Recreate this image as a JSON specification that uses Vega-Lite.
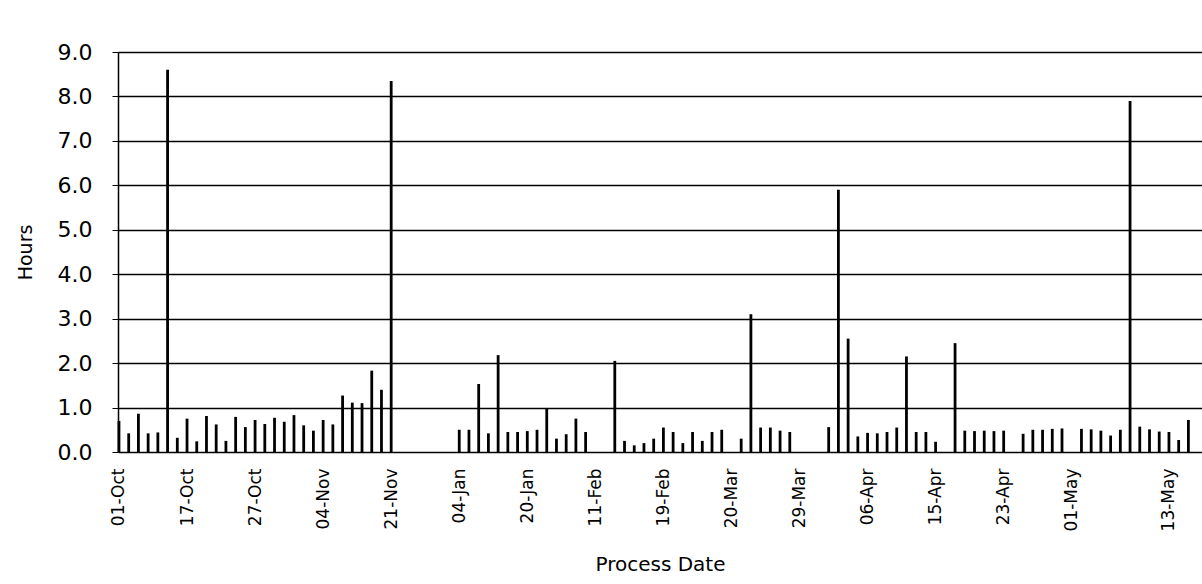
{
  "$schema": "https://vega.github.io/schema/vega-lite/v6.json",
  "width": 1084,
  "height": 400,
  "autosize": "none",
  "padding": {"left": 118, "top": 52, "right": 0, "bottom": 132},
  "background": "white",
  "config": {
    "view": {"stroke": null},
    "font": "DejaVu Sans"
  },
  "data": {
    "values": [
      {"slot": 0, "hours": 0.70}, {"slot": 1, "hours": 0.42}, {"slot": 2, "hours": 0.86},
      {"slot": 3, "hours": 0.42}, {"slot": 4, "hours": 0.44}, {"slot": 5, "hours": 8.6},
      {"slot": 6, "hours": 0.32}, {"slot": 7, "hours": 0.75}, {"slot": 8, "hours": 0.24},
      {"slot": 9, "hours": 0.81}, {"slot": 10, "hours": 0.62}, {"slot": 11, "hours": 0.25},
      {"slot": 12, "hours": 0.79}, {"slot": 13, "hours": 0.56}, {"slot": 14, "hours": 0.72},
      {"slot": 15, "hours": 0.63}, {"slot": 16, "hours": 0.77}, {"slot": 17, "hours": 0.68},
      {"slot": 18, "hours": 0.83}, {"slot": 19, "hours": 0.6}, {"slot": 20, "hours": 0.48},
      {"slot": 21, "hours": 0.72}, {"slot": 22, "hours": 0.62}, {"slot": 23, "hours": 1.27},
      {"slot": 24, "hours": 1.11}, {"slot": 25, "hours": 1.1}, {"slot": 26, "hours": 1.83},
      {"slot": 27, "hours": 1.4}, {"slot": 28, "hours": 8.35},
      {"slot": 35, "hours": 0.5}, {"slot": 36, "hours": 0.5}, {"slot": 37, "hours": 1.53},
      {"slot": 38, "hours": 0.42}, {"slot": 39, "hours": 2.18}, {"slot": 40, "hours": 0.45},
      {"slot": 41, "hours": 0.45}, {"slot": 42, "hours": 0.47}, {"slot": 43, "hours": 0.5},
      {"slot": 44, "hours": 0.98}, {"slot": 45, "hours": 0.3}, {"slot": 46, "hours": 0.4},
      {"slot": 47, "hours": 0.75}, {"slot": 48, "hours": 0.45},
      {"slot": 51, "hours": 2.05}, {"slot": 52, "hours": 0.25}, {"slot": 53, "hours": 0.15},
      {"slot": 54, "hours": 0.2}, {"slot": 55, "hours": 0.3}, {"slot": 56, "hours": 0.55},
      {"slot": 57, "hours": 0.45}, {"slot": 58, "hours": 0.2}, {"slot": 59, "hours": 0.45},
      {"slot": 60, "hours": 0.25}, {"slot": 61, "hours": 0.45}, {"slot": 62, "hours": 0.5},
      {"slot": 64, "hours": 0.3}, {"slot": 65, "hours": 3.1}, {"slot": 66, "hours": 0.55},
      {"slot": 67, "hours": 0.55}, {"slot": 68, "hours": 0.48}, {"slot": 69, "hours": 0.45},
      {"slot": 73, "hours": 0.56}, {"slot": 74, "hours": 5.9}, {"slot": 75, "hours": 2.55},
      {"slot": 76, "hours": 0.35}, {"slot": 77, "hours": 0.43}, {"slot": 78, "hours": 0.42},
      {"slot": 79, "hours": 0.45}, {"slot": 80, "hours": 0.55}, {"slot": 81, "hours": 2.15},
      {"slot": 82, "hours": 0.45}, {"slot": 83, "hours": 0.45}, {"slot": 84, "hours": 0.23},
      {"slot": 86, "hours": 2.45}, {"slot": 87, "hours": 0.48}, {"slot": 88, "hours": 0.47},
      {"slot": 89, "hours": 0.48}, {"slot": 90, "hours": 0.47}, {"slot": 91, "hours": 0.48},
      {"slot": 93, "hours": 0.41}, {"slot": 94, "hours": 0.5}, {"slot": 95, "hours": 0.5},
      {"slot": 96, "hours": 0.52}, {"slot": 97, "hours": 0.53},
      {"slot": 99, "hours": 0.52}, {"slot": 100, "hours": 0.51}, {"slot": 101, "hours": 0.48},
      {"slot": 102, "hours": 0.37}, {"slot": 103, "hours": 0.5}, {"slot": 104, "hours": 7.9},
      {"slot": 105, "hours": 0.57}, {"slot": 106, "hours": 0.51}, {"slot": 107, "hours": 0.46},
      {"slot": 108, "hours": 0.45}, {"slot": 109, "hours": 0.27}, {"slot": 110, "hours": 0.72}
    ]
  },
  "mark": {"type": "rule", "strokeWidth": 2.8, "color": "black"},
  "encoding": {
    "x": {
      "field": "slot",
      "type": "quantitative",
      "scale": {"domain": [-0.1, 111.4], "nice": false, "zero": false},
      "axis": {
        "title": "Process Date",
        "values": [0, 7, 14, 21, 28, 35, 42, 49, 56, 63, 70, 77, 84, 91, 98, 108],
        "labelExpr": "{'0': '01-Oct', '7': '17-Oct', '14': '27-Oct', '21': '04-Nov', '28': '21-Nov', '35': '04-Jan', '42': '20-Jan', '49': '11-Feb', '56': '19-Feb', '63': '20-Mar', '70': '29-Mar', '77': '06-Apr', '84': '15-Apr', '91': '23-Apr', '98': '01-May', '108': '13-May'}[datum.value]",
        "labelAngle": -90,
        "labelAlign": "right",
        "labelBaseline": "middle",
        "labelFontSize": 17,
        "labelPadding": 16,
        "labelFlush": false,
        "labelOverlap": false,
        "labelColor": "black",
        "ticks": false,
        "domain": false,
        "grid": false,
        "titleFontSize": 20,
        "titleFontWeight": "normal",
        "titleColor": "black",
        "titlePadding": 24
      }
    },
    "y": {
      "field": "hours",
      "type": "quantitative",
      "scale": {"domain": [0, 9], "nice": false},
      "axis": {
        "title": "Hours",
        "values": [0, 1, 2, 3, 4, 5, 6, 7, 8, 9],
        "format": ".1f",
        "grid": true,
        "gridColor": "black",
        "gridWidth": 1.5,
        "gridOpacity": 1,
        "domainColor": "black",
        "domainWidth": 1.5,
        "tickColor": "black",
        "tickSize": 6,
        "labelFontSize": 22,
        "labelPadding": 20,
        "labelColor": "black",
        "labelFlush": false,
        "titleFontSize": 19,
        "titleFontWeight": "normal",
        "titleColor": "black",
        "titlePadding": 22
      }
    },
    "y2": {"datum": 0}
  }
}
